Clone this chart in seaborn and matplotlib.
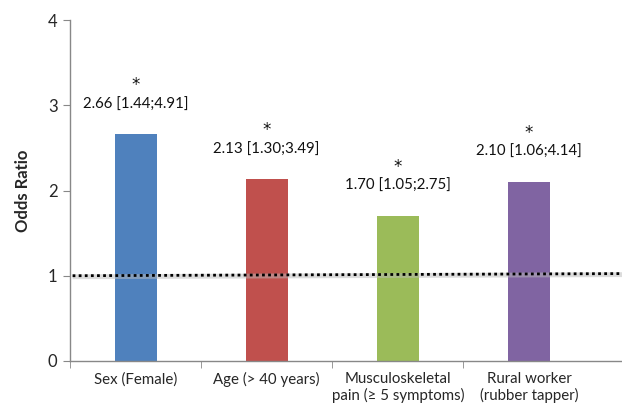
import matplotlib
matplotlib.use("Agg")
import matplotlib.pyplot as plt
import seaborn as sns
import pandas as pd
from matplotlib.ticker import FixedLocator

categories = ["Sex (Female)", "Age (> 40 years)", "Musculoskeletal\npain (\u2265 5 symptoms)", "Rural worker\n(rubber tapper)"]
odds = [2.66, 2.13, 1.70, 2.10]
ci_low = [1.44, 1.30, 1.05, 1.06]
ci_high = [4.91, 3.49, 2.75, 4.14]
colors = ["#4F81BD", "#C0504D", "#9BBB59", "#8064A2"]
ref_x = [-0.48, 3.72]
ref_y = [1.0, 1.025]

sns.set_style("white")
plt.rcParams["font.family"] = ["Lato", "DejaVu Sans"]

df = pd.DataFrame({"cat": categories, "OR": odds})

fig = plt.figure(figsize=(6.22, 4.12), dpi=100)
ax = fig.add_axes([0.1125, 0.124, 0.8875, 0.827])

sns.barplot(data=df, x="cat", y="OR", hue="cat", palette=colors, width=0.32,
            legend=False, ax=ax, saturation=1, edgecolor="none")

# reference line with soft shadow
ax.plot(ref_x, [v - 0.012 for v in ref_y], color="#bbbbbb", lw=3.5, alpha=0.5, zorder=3, solid_capstyle="butt")
ax.plot(ref_x, ref_y, color="black", lw=2, linestyle=(0, (1, 1.2)), zorder=4)

for i, (o, lo, hi) in enumerate(zip(odds, ci_low, ci_high)):
    ax.text(i, o + 0.35, f"{o:.2f} [{lo:.2f};{hi:.2f}]", ha="center", va="center", fontsize=10.8, color="#111111")
    ax.text(i, o + 0.58, "*", ha="center", va="center", fontsize=12, color="#111111",
            family=["DejaVu Sans"])

ax.set_xlim(-0.5, 3.71)
ax.set_ylim(0, 4)
ax.set_yticks([0, 1, 2, 3, 4])
ax.tick_params(axis="y", labelsize=12, length=5, color="#888888", direction="out", left=True, pad=4)
ax.tick_params(axis="x", which="major", length=0, labelsize=10.8, pad=8)
ax.xaxis.set_minor_locator(FixedLocator([-0.5, 0.5, 1.5, 2.5]))
ax.tick_params(axis="x", which="minor", length=5, color="#888888", direction="out", bottom=True)
ax.set_xlabel("")
ax.set_ylabel("Odds Ratio", fontsize=12, fontweight="bold", labelpad=12)
for s in ["top", "right"]:
    ax.spines[s].set_visible(False)
for s in ["left", "bottom"]:
    ax.spines[s].set_color("#888888")
    ax.spines[s].set_linewidth(1)

fig.savefig("out.png", dpi=100)
